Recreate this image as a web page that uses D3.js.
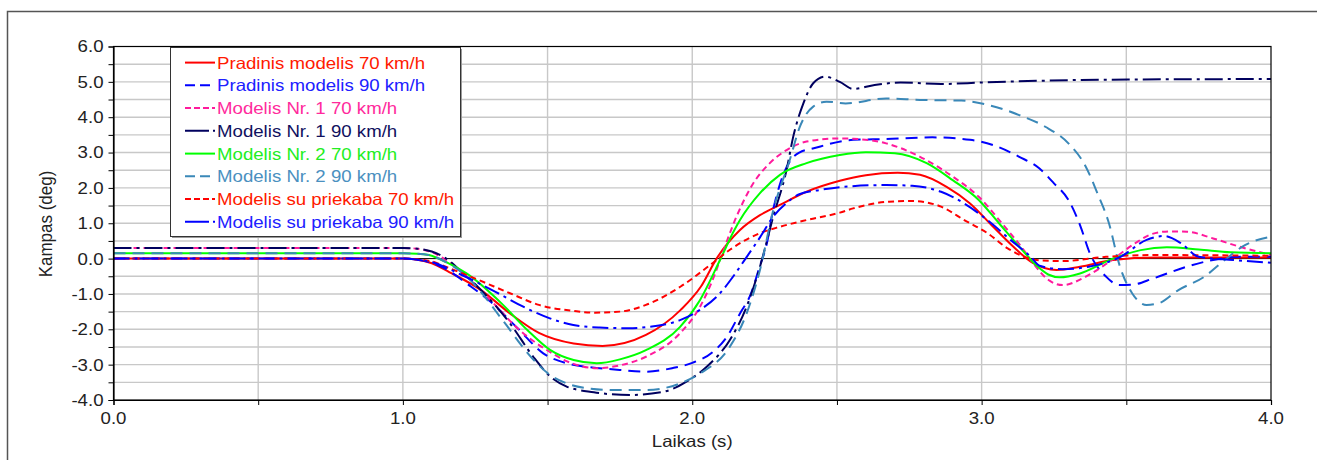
<!DOCTYPE html>
<html>
<head>
<meta charset="utf-8">
<script src="https://cdn.jsdelivr.net/npm/d3@7"></script>
<style>
  body { margin: 0; background: #fff; }
  svg { display: block; }
  text { font-family: "Liberation Sans", Arial, sans-serif; }
</style>
</head>
<body>
<svg id="chart" width="1317" height="460"></svg>
<script>
// Axis ticks
const xTicks = [0.0, 1.0, 2.0, 3.0, 4.0];
const yTicks = [-4, -3, -2, -1, 0, 1, 2, 3, 4, 5, 6];
const xTitle = "Laikas (s)";
const yTitle = "Kampas (deg)";

// Series labels (legend order)
const seriesLabels = [
  "Pradinis modelis 70 km/h",
  "Pradinis modelis 90 km/h",
  "Modelis Nr. 1 70 km/h",
  "Modelis Nr. 1 90 km/h",
  "Modelis Nr. 2 70 km/h",
  "Modelis Nr. 2 90 km/h",
  "Modelis su priekaba 70 km/h",
  "Modelis su priekaba 90 km/h"
];

// Angle vs time, [t (s), angle (deg)]
const pradinis70 = [[0,0],[1.0,0],[1.05,-0.03],[1.1,-0.13],[1.16,-0.38],[1.27,-0.89],[1.37,-1.55],[1.47,-2.1],[1.59,-2.4],[1.69,-2.47],[1.84,-2.16],[1.96,-1.45],[2.03,-0.79],[2.084,0.0],[2.165,0.81],[2.234,1.23],[2.303,1.52],[2.395,1.89],[2.51,2.2],[2.6,2.36],[2.71,2.43],[2.787,2.37],[2.879,2.03],[2.96,1.56],[3.04,0.9],[3.109,0.34],[3.178,-0.13],[3.259,-0.32],[3.34,-0.23],[3.454,-0.04],[3.6,0.03],[4.0,0.03]];
const pradinis90 = [[0,0],[1.0,0],[1.05,-0.03],[1.1,-0.12],[1.16,-0.35],[1.22,-0.7],[1.3,-1.2],[1.4,-2.0],[1.485,-2.68],[1.566,-2.96],[1.68,-3.1],[1.75,-3.15],[1.84,-3.2],[1.93,-3.1],[2.0,-2.95],[2.07,-2.65],[2.12,-2.21],[2.165,-1.55],[2.2,-1.05],[2.234,-0.2],[2.257,0.4],[2.28,1.4],[2.303,2.1],[2.337,2.75],[2.37,3.0],[2.42,3.12],[2.556,3.36],[2.67,3.38],[2.83,3.43],[2.96,3.36],[3.04,3.21],[3.13,2.88],[3.2,2.55],[3.25,2.13],[3.3,1.66],[3.34,0.95],[3.374,0.15],[3.43,-0.51],[3.477,-0.75],[3.52,-0.74],[3.593,-0.56],[3.708,-0.23],[3.8,-0.04],[3.9,0.05],[4.0,0.05]];
const nr1_70 = [[0,0.3],[1.0,0.3],[1.05,0.28],[1.1,0.18],[1.16,-0.1],[1.22,-0.5],[1.3,-1.15],[1.4,-2.0],[1.5,-2.6],[1.58,-2.95],[1.67,-3.1],[1.75,-3.02],[1.842,-2.77],[1.958,-2.11],[2.027,-1.36],[2.08,-0.4],[2.096,-0.04],[2.153,1.19],[2.211,2.13],[2.268,2.7],[2.326,3.07],[2.395,3.31],[2.51,3.4],[2.556,3.39],[2.67,3.26],[2.787,2.88],[2.9,2.32],[2.99,1.75],[3.07,1.0],[3.14,0.3],[3.18,-0.15],[3.23,-0.6],[3.28,-0.75],[3.36,-0.51],[3.45,-0.04],[3.53,0.43],[3.59,0.7],[3.65,0.77],[3.71,0.76],[3.8,0.57],[3.89,0.34],[4.0,0.1]];
const nr1_90 = [[0,0.3],[1.0,0.3],[1.05,0.28],[1.1,0.2],[1.15,0.0],[1.2,-0.35],[1.27,-0.89],[1.37,-1.83],[1.45,-2.77],[1.51,-3.34],[1.566,-3.62],[1.66,-3.78],[1.785,-3.86],[1.9,-3.77],[1.98,-3.48],[2.05,-3.06],[2.13,-2.3],[2.188,-1.36],[2.234,-0.23],[2.28,1.19],[2.326,2.51],[2.349,3.45],[2.384,4.39],[2.418,4.96],[2.459,5.15],[2.51,5.0],[2.556,4.8],[2.63,4.91],[2.72,4.98],[2.86,4.94],[3.0,4.98],[3.2,5.03],[3.41,5.06],[4.0,5.08]];
const nr2_70 = [[0,0.15],[1.0,0.15],[1.05,0.14],[1.09,0.1],[1.15,-0.1],[1.22,-0.42],[1.34,-1.26],[1.43,-2.02],[1.51,-2.59],[1.59,-2.87],[1.67,-2.96],[1.75,-2.85],[1.84,-2.59],[1.958,-1.93],[2.027,-1.17],[2.096,-0.04],[2.142,0.75],[2.165,1.09],[2.234,1.85],[2.303,2.37],[2.395,2.7],[2.51,2.93],[2.6,3.01],[2.7,2.98],[2.81,2.7],[2.9,2.22],[2.99,1.66],[3.06,1.0],[3.13,0.34],[3.19,-0.2],[3.23,-0.45],[3.27,-0.53],[3.34,-0.42],[3.454,0.0],[3.55,0.24],[3.64,0.32],[3.75,0.26],[3.86,0.18],[4.0,0.15]];
const nr2_90 = [[0,0.15],[1.0,0.15],[1.05,0.14],[1.1,0.08],[1.16,-0.15],[1.22,-0.5],[1.27,-0.95],[1.35,-1.8],[1.45,-2.85],[1.51,-3.3],[1.566,-3.53],[1.65,-3.68],[1.73,-3.72],[1.84,-3.72],[1.958,-3.53],[2.027,-3.25],[2.13,-2.49],[2.188,-1.55],[2.234,-0.32],[2.28,1.37],[2.337,2.79],[2.372,3.73],[2.418,4.3],[2.464,4.44],[2.53,4.39],[2.67,4.53],[2.787,4.49],[2.93,4.47],[3.02,4.35],[3.13,4.06],[3.22,3.73],[3.3,3.26],[3.36,2.6],[3.4,1.85],[3.44,1.0],[3.477,-0.2],[3.52,-0.98],[3.57,-1.31],[3.61,-1.27],[3.68,-0.89],[3.77,-0.51],[3.84,-0.04],[3.91,0.38],[4.0,0.62]];
const priekaba70 = [[0,0],[1.0,0],[1.05,-0.02],[1.1,-0.08],[1.16,-0.27],[1.26,-0.6],[1.37,-0.98],[1.47,-1.31],[1.59,-1.48],[1.66,-1.53],[1.75,-1.5],[1.84,-1.31],[1.96,-0.79],[2.07,-0.13],[2.13,0.25],[2.234,0.72],[2.303,0.9],[2.395,1.09],[2.51,1.3],[2.556,1.42],[2.68,1.61],[2.76,1.63],[2.86,1.47],[2.94,1.09],[3.02,0.72],[3.09,0.29],[3.19,-0.04],[3.28,-0.07],[3.43,0.05],[3.6,0.1],[4.0,0.08]];
const priekaba90 = [[0,0],[1.0,0],[1.05,-0.03],[1.1,-0.1],[1.2,-0.45],[1.32,-0.94],[1.416,-1.36],[1.508,-1.69],[1.589,-1.88],[1.68,-1.95],[1.78,-1.97],[1.842,-1.94],[1.958,-1.74],[2.027,-1.45],[2.096,-0.98],[2.142,-0.5],[2.18,-0.05],[2.234,0.6],[2.28,1.19],[2.33,1.6],[2.37,1.82],[2.44,1.94],[2.52,2.03],[2.67,2.08],[2.76,2.06],[2.86,1.89],[2.94,1.56],[3.02,1.09],[3.1,0.53],[3.17,0.05],[3.2,-0.2],[3.28,-0.3],[3.37,-0.23],[3.48,0.05],[3.57,0.53],[3.63,0.64],[3.69,0.43],[3.75,0.05],[3.87,-0.04],[4.0,-0.12]];

const seriesData = [pradinis70, pradinis90, nr1_70, nr1_90, nr2_70, nr2_90, priekaba70, priekaba90];

// Line styles
const seriesColors = ["#ff0000", "#0000ff", "#ff1a9c", "#00005e", "#00ff00", "#3a88b8", "#ff0000", "#0000ff"];
const seriesDash = [null, "12,7", "6,4", "18,5,3,5", null, "12,7", "6,4", "16,5,3,5"];
const legendDash = [null, "10,5", "6,3", "24,4,2,10", null, "10,5", "6,3", "24,4,2,10"];
const textColors = ["#ff1a00", "#2020ff", "#ff2a9c", "#10105e", "#22ee22", "#4a90c0", "#ff1a00", "#2020ff"];

const TEXT_STRETCH = 1.13;
const svg = d3.select("#chart");
const W = 1317, H = 460;
const plot = { left: 113.5, top: 46.5, right: 1271, bottom: 400 };

const x = d3.scaleLinear().domain([0, 4]).range([plot.left, plot.right]);
const y = d3.scaleLinear().domain([-4, 6]).range([plot.bottom, plot.top]);
const fmt = v => d3.format(".1f")(v).replace("\u2212", "-");

// Outer frame (left and top edges visible)
svg.append("path")
  .attr("d", `M7.5,${H} L7.5,11.5 L${W},11.5`)
  .attr("fill", "none").attr("stroke", "#555").attr("stroke-width", 1.5);

// Grid
const halfX = d3.range(0.5, 4, 0.5);
const halfY = d3.range(-3.5, 6, 0.5).filter(v => v !== 0);
svg.append("g").selectAll("line").data(halfY).join("line")
  .attr("x1", plot.left).attr("x2", plot.right)
  .attr("y1", d => y(d)).attr("y2", d => y(d))
  .attr("stroke", "#c8c8c8").attr("stroke-width", 1.4);
svg.append("g").selectAll("line").data(halfX).join("line")
  .attr("y1", plot.top).attr("y2", plot.bottom)
  .attr("x1", d => x(d)).attr("x2", d => x(d))
  .attr("stroke", "#c8c8c8").attr("stroke-width", 1.4);

// Zero line
svg.append("line")
  .attr("x1", plot.left).attr("x2", plot.right)
  .attr("y1", y(0)).attr("y2", y(0))
  .attr("stroke", "#000").attr("stroke-width", 1);

// Curves
svg.append("clipPath").attr("id", "plotClip")
  .append("rect").attr("x", plot.left).attr("y", plot.top)
  .attr("width", plot.right - plot.left).attr("height", plot.bottom - plot.top);

const line = d3.line().x(d => x(d[0])).y(d => y(d[1])).curve(d3.curveMonotoneX);
const curves = svg.append("g").attr("clip-path", "url(#plotClip)");
seriesData.forEach((s, i) => {
  curves.append("path")
    .datum(s)
    .attr("d", line)
    .attr("fill", "none")
    .attr("stroke", seriesColors[i])
    .attr("stroke-width", 2)
    .attr("stroke-dasharray", seriesDash[i]);
});

// Plot box
svg.append("rect")
  .attr("x", plot.left).attr("y", plot.top)
  .attr("width", plot.right - plot.left).attr("height", plot.bottom - plot.top)
  .attr("fill", "none").attr("stroke", "#000").attr("stroke-width", 1.2);

// Axes
const yAxis = d3.axisLeft(y).tickValues(d3.range(-4, 6.01, 0.5)).tickSize(5).tickFormat("");
const xAxis = d3.axisBottom(x).tickValues(d3.range(0, 4.01, 0.5)).tickSize(5).tickFormat("");
const gy = svg.append("g").attr("transform", `translate(${plot.left},0)`).call(yAxis);
const gx = svg.append("g").attr("transform", `translate(0,${plot.bottom})`).call(xAxis);
[gx, gy].forEach(g => {
  g.select(".domain").attr("stroke", "#000").attr("stroke-width", 1.2);
  g.selectAll(".tick line").attr("stroke", "#000");
});

function stretched(sel, px, py, extra = "") {
  return sel.attr("transform", `translate(${px},${py}) ${extra} scale(${TEXT_STRETCH},1)`);
}

// Tick labels
yTicks.forEach(v => {
  stretched(svg.append("text"), plot.left - 10, y(v))
    .attr("text-anchor", "end").attr("dy", "0.36em")
    .attr("font-size", 16.5).attr("fill", "#222").text(fmt(v));
});
xTicks.forEach(v => {
  stretched(svg.append("text"), x(v), plot.bottom + 18)
    .attr("text-anchor", "middle").attr("dy", "0.36em")
    .attr("font-size", 16.5).attr("fill", "#222").text(fmt(v));
});

// Axis titles
stretched(svg.append("text"), (plot.left + plot.right) / 2, 441)
  .attr("text-anchor", "middle").attr("dy", "0.36em")
  .attr("font-size", 16.5).attr("fill", "#222").text(xTitle);
svg.append("text")
  .attr("transform", `translate(45,224) rotate(-90) scale(1,${TEXT_STRETCH})`)
  .attr("text-anchor", "middle").attr("dy", "0.36em")
  .attr("font-size", 17).attr("fill", "#222").text(yTitle);

// Legend
const lg = { x: 170, y: 47, w: 290, h: 189, rowTop: 62.6, rowStep: 22.75 };
svg.append("rect").attr("x", lg.x + 2).attr("y", lg.y + 2).attr("width", lg.w).attr("height", lg.h)
  .attr("fill", "#9a9a9a");
svg.append("rect").attr("x", lg.x + 0.5).attr("y", lg.y + 0.5).attr("width", lg.w).attr("height", lg.h)
  .attr("fill", "#fff").attr("stroke", "#333").attr("stroke-width", 1);
seriesLabels.forEach((label, i) => {
  const cy = lg.rowTop + i * lg.rowStep;
  svg.append("line")
    .attr("x1", 185).attr("x2", 215).attr("y1", cy).attr("y2", cy)
    .attr("stroke", seriesColors[i]).attr("stroke-width", 2)
    .attr("stroke-dasharray", legendDash[i]);
  stretched(svg.append("text"), 217, cy)
    .attr("dy", "0.36em").attr("font-size", 16.5)
    .attr("fill", textColors[i]).text(label);
});
</script>
</body>
</html>
